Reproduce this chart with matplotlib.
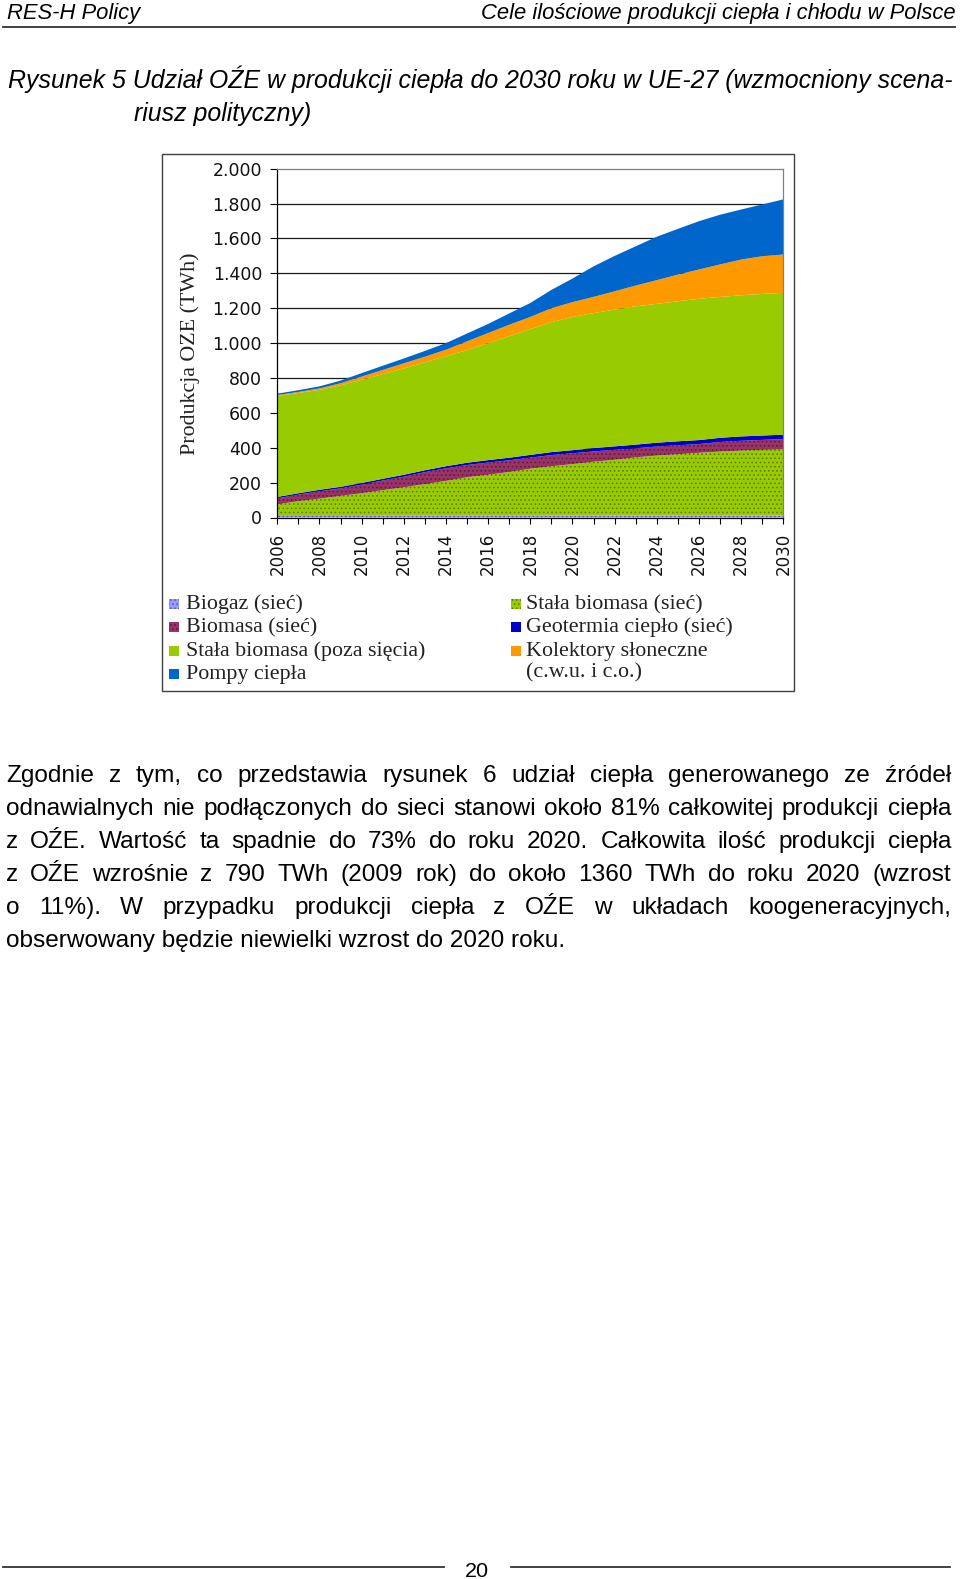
import matplotlib
matplotlib.use("Agg")
import matplotlib.pyplot as plt
from matplotlib import font_manager
from matplotlib.patches import Rectangle
from matplotlib.lines import Line2D

# data (TWh)
years = list(range(2006, 2031))
biogaz = [9, 9, 9, 9, 9, 10, 10, 10, 10, 10, 10, 10, 10, 11, 11, 11, 11, 11, 11, 11, 11, 12, 12, 12, 12]
stala_siec = [66, 85, 99, 115, 130, 147, 163, 182, 200, 221, 235, 251, 270, 283, 295, 309, 320, 334, 344, 352, 360, 366, 372, 376, 380]
biomasa_siec = [35, 37, 42, 43, 49, 55, 61, 68, 72, 70, 70, 67, 63, 64, 62, 59, 57, 52, 52, 51, 50, 55, 56, 57, 58]
geotermia = [8, 8, 9, 9, 10, 10, 11, 11, 12, 13, 14, 15, 16, 17, 18, 19, 20, 21, 22, 23, 23, 24, 25, 25, 25]
stala_poza = [579, 575, 573, 582, 592, 600, 610, 619, 631, 646, 671, 697, 721, 745, 764, 774, 784, 793, 796, 803, 810, 808, 809, 812, 813]
kolektory = [5, 6, 8, 12, 18, 24, 29, 32, 37, 50, 58, 65, 70, 80, 85, 93, 105, 119, 136, 153, 168, 186, 205, 216, 220]
pompy = [8, 10, 12, 15, 20, 24, 28, 33, 38, 45, 52, 65, 80, 105, 135, 175, 203, 225, 249, 262, 277, 285, 287, 297, 316]

series = [biogaz, stala_siec, biomasa_siec, geotermia, stala_poza, kolektory, pompy]
labels = ["Biogaz (sieć)", "Stała biomasa (sieć)", "Biomasa (sieć)", "Geotermia ciepło (sieć)",
          "Stała biomasa (poza sięcia)", "Kolektory słoneczne\n(c.w.u. i c.o.)", "Pompy ciepła"]
colors = ["#9999ff", "#99cc00", "#993366", "#0000cc", "#99cc00", "#ff9900", "#0066cc"]
hatches = ["....", "....", "....", None, None, None, None]
hatch_cols = ["#5c5cb8", "#5e7d00", "#5a1f3c", None, None, None, None]

yticks = list(range(0, 2001, 200))
ytick_labels = ["0", "200", "400", "600", "800", "1.000", "1.200", "1.400", "1.600", "1.800", "2.000"]

header_left = "RES-H Policy"
header_right = "Cele ilościowe produkcji ciepła i chłodu w Polsce"
caption = ["Rysunek 5 Udział OŹE w produkcji ciepła do 2030 roku w UE-27 (wzmocniony scena-",
           "riusz polityczny)"]
body = ["Zgodnie z tym, co przedstawia rysunek 6 udział ciepła generowanego ze źródeł",
        "odnawialnych nie podłączonych do sieci stanowi około 81% całkowitej produkcji ciepła",
        "z OŹE. Wartość ta spadnie do 73% do roku 2020. Całkowita ilość produkcji ciepła",
        "z OŹE wzrośnie z 790 TWh (2009 rok) do około 1360 TWh do roku 2020 (wzrost",
        "o 11%). W przypadku produkcji ciepła z OŹE w układach koogeneracyjnych,",
        "obserwowany będzie niewielki wzrost do 2020 roku."]
page_no = "20"

names = {f.name for f in font_manager.fontManager.ttflist}
narrow = "Liberation Sans Narrow" if "Liberation Sans Narrow" in names else "Liberation Sans"
serif = "Liberation Serif"

W, H = 960, 1579
fig = plt.figure(figsize=(W / 100, H / 100), dpi=100)
fig.patch.set_facecolor("white")
r = fig.canvas.get_renderer()


def fx(x):
    return x / W


def fy(y):
    return 1 - y / H


def width(s, size, **kw):
    t = fig.text(0, 0, s, fontsize=size, **kw)
    w = t.get_window_extent(renderer=r).width
    t.remove()
    return w


def fit(s, target, **kw):
    return 12 * target / width(s, 12, **kw)


# ---- page header ----
hsize = fit(header_left, 133, family=narrow, style="italic")
fig.text(fx(7), fy(19), header_left, fontsize=hsize, family=narrow, style="italic", va="baseline")
fig.text(fx(956), fy(19), header_right, fontsize=hsize, family=narrow, style="italic",
         va="baseline", ha="right")
fig.add_artist(Line2D([fx(3), fx(955)], [fy(27), fy(27)], color="#333333", lw=1.3))

# ---- caption ----
csize = fit(caption[0], 944, family=narrow, style="italic")
fig.text(fx(8), fy(88), caption[0], fontsize=csize, family=narrow, style="italic", va="baseline")
fig.text(fx(134), fy(121.5), caption[1], fontsize=csize, family=narrow, style="italic", va="baseline")

# ---- chart frame ----
fig.add_artist(Rectangle((fx(162), fy(691)), (794 - 162) / W, (691 - 154) / H,
                         fill=False, edgecolor="#404040", lw=1.0))

plt.rcParams["hatch.linewidth"] = 0.7
ax = fig.add_axes([fx(277.3), fy(517.5), (783.3 - 277.3) / W, (517.5 - 168.7) / H])
base = [0] * len(years)
for vals, col, h, hc in zip(series, colors, hatches, hatch_cols):
    top = [b + v for b, v in zip(base, vals)]
    if h:
        ax.fill_between(years, base, top, facecolor=col, edgecolor=hc, hatch=h, lw=0, zorder=2)
    else:
        ax.fill_between(years, base, top, facecolor=col, lw=0, zorder=2)
    base = top

ax.set_xlim(2006, 2030)
ax.set_ylim(0, 2000)
ax.set_yticks(yticks)
ax.set_yticklabels(ytick_labels, family="DejaVu Sans", fontsize=12.5, color="#111111")
ax.set_xticks(years)
ax.set_xticklabels([str(y) if y % 2 == 0 else "" for y in years], rotation=90,
                   family="DejaVu Sans", fontsize=12, color="#111111")
ax.tick_params(axis="y", direction="out", length=5, width=0.8, pad=6)
ax.tick_params(axis="x", direction="out", length=4, width=0.8, pad=7)
for y in yticks[1:-1]:
    ax.axhline(y, color="#1a1a1a", lw=0.9, zorder=1)
ax.spines["left"].set_color("black")
ax.spines["bottom"].set_color("black")
ax.spines["top"].set_color("#808080")
ax.spines["right"].set_color("#808080")
for s in ax.spines.values():
    s.set_linewidth(0.9)
    s.set_zorder(3)

ysize = fit("Produkcja OZE (TWh)", 203, family=serif)
fig.text(fx(190), fy(354), "Produkcja OZE (TWh)", rotation=90, family=serif,
         fontsize=ysize, ha="center", va="center", color="#222222")

# ---- legend (Excel fills rows left to right) ----
lsize = fit(labels[4], 240, family=serif)
rows_y = [604, 627, 651, 674]
for i, (lab, col, h, hc) in enumerate(zip(labels, colors, hatches, hatch_cols)):
    row, colno = divmod(i, 2)
    mx = 169 if colno == 0 else 511
    tx = 186 if colno == 0 else 526
    yc = rows_y[row]
    fig.add_artist(Rectangle((fx(mx), fy(yc + 5)), 10 / W, 10 / H, facecolor=col,
                             edgecolor=hc if hc else col, hatch=h, lw=0))
    for k, part in enumerate(lab.split("\n")):
        fig.text(fx(tx), fy(yc + 5 + k * 21), part, family=serif, fontsize=lsize,
                 va="baseline", color="#222222")

# ---- body paragraph, justified ----
bsize = fit(body[-1], 560, family=narrow)
x0, x1 = 6, 951
for i, line in enumerate(body):
    yb = 781.5 + i * 33.2
    if i == len(body) - 1:
        fig.text(fx(x0), fy(yb), line, family=narrow, fontsize=bsize, va="baseline")
        continue
    words = line.split(" ")
    ws = [width(w, bsize, family=narrow) for w in words]
    gap = (x1 - x0 - sum(ws)) / (len(words) - 1)
    x = x0
    for w, wd in zip(words, ws):
        fig.text(fx(x), fy(yb), w, family=narrow, fontsize=bsize, va="baseline")
        x += wd + gap

# ---- footer ----
fig.add_artist(Line2D([fx(3), fx(444)], [fy(1567), fy(1567)], color="#333333", lw=1.3))
fig.add_artist(Line2D([fx(511), fx(950)], [fy(1567), fy(1567)], color="#333333", lw=1.3))
fsize = fit(page_no, 24, family=narrow)
fig.text(fx(477), fy(1577), page_no, family=narrow, fontsize=fsize, ha="center", va="baseline")

fig.savefig("out.png", dpi=100)
